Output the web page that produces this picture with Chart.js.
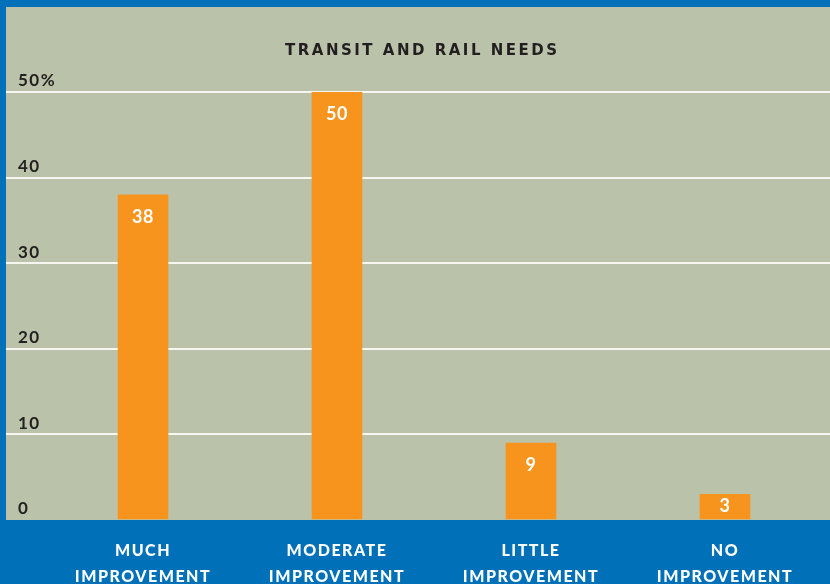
<!DOCTYPE html>
<html>
<head>
<meta charset="utf-8">
<script src="https://cdn.jsdelivr.net/npm/chart.js@4.4.1/dist/chart.umd.min.js"></script>
<style>
html,body{margin:0;padding:0;background:#0070b8;}
#wrap{width:830px;height:584px;position:relative;}
</style>
</head>
<body>
<div id="wrap"><canvas id="chart"></canvas></div>
<script>
/* transit and rail needs - share of answers per category */

const title = "TRANSIT AND RAIL NEEDS";
const categories = [
["MUCH","IMPROVEMENT"],
["MODERATE","IMPROVEMENT"],
["LITTLE","IMPROVEMENT"],
["NO","IMPROVEMENT"]
];
const values = [38,50,9,3];
const yTicks = [0,10,20,30,40,50];

const PANEL="#bac3aa", ORANGE="#f7941e", INK="#231f20", GRID="#f7f7f2";

// no white line on the zero baseline
const gridColor = c => c.tick && c.tick.value===0 ? "rgba(0,0,0,0)" : GRID;
const setTicks = s => { s.ticks = yTicks.map(v=>({value:v})); };

/* gray panel behind the plot, title and the numbers inside the bars */
const panel = {
id:"panel",
beforeDraw(chart){
const {ctx,chartArea}=chart;
ctx.save();
ctx.fillStyle=PANEL;
ctx.fillRect(6,7,chart.width-6,chartArea.bottom-7);
ctx.restore();
ctx.letterSpacing="1.5px";
},
afterDraw(chart){
const ctx=chart.ctx;
ctx.save();
ctx.letterSpacing="2.5px";
ctx.font="bold 15px 'DejaVu Sans'";
ctx.fillStyle=INK;
ctx.textAlign="center";
ctx.textBaseline="alphabetic";
ctx.fillText(title,421+1.25,55);

ctx.letterSpacing="0.5px";
ctx.font="bold 18px Lato";
ctx.fillStyle="#fff";
ctx.textBaseline="middle";
chart.getDatasetMeta(0).data.forEach((bar,i)=>{
const y=Math.min(bar.y+22,(bar.y+bar.base)/2);
ctx.fillText(String(values[i]),bar.x,y);
});
ctx.restore();
}
};

new Chart(document.getElementById("chart"),{
type:"bar",
data:{
labels:categories,
datasets:[{data:values,backgroundColor:ORANGE,borderWidth:0,barThickness:50}]
},
options:{
responsive:true,
maintainAspectRatio:false,
animation:false,
layout:{padding:{top:92,left:18,right:0,bottom:0}},
plugins:{legend:{display:false},tooltip:{enabled:false}},
scales:{
x:{
grid:{display:false},
border:{display:false},
ticks:{color:"#fff",font:{family:"Lato",size:16,weight:900,lineHeight:1.625},padding:10,maxRotation:0,autoSkip:false},
afterFit:s=>{s.height=64;}
},
y:{
min:0,max:50,
afterBuildTicks:setTicks,
border:{display:false},
grid:{color:gridColor,lineWidth:2,tickLength:40},
// mirrored so the labels are not clipped to the narrow axis box
ticks:{mirror:true,crossAlign:"near",padding:-28,labelOffset:-11,color:INK,
font:{family:"Lato",size:17,weight:"bold"},
callback:v=>v===50?v+"%":v},
afterFit:s=>{s.width=28;}
},
y2:{
position:"right",
min:0,max:50,
afterBuildTicks:setTicks,
border:{display:false},
ticks:{display:false},
grid:{drawOnChartArea:false,color:gridColor,lineWidth:2,tickLength:8}
}
}
},
plugins:[panel]
});
</script>
</body>
</html>
